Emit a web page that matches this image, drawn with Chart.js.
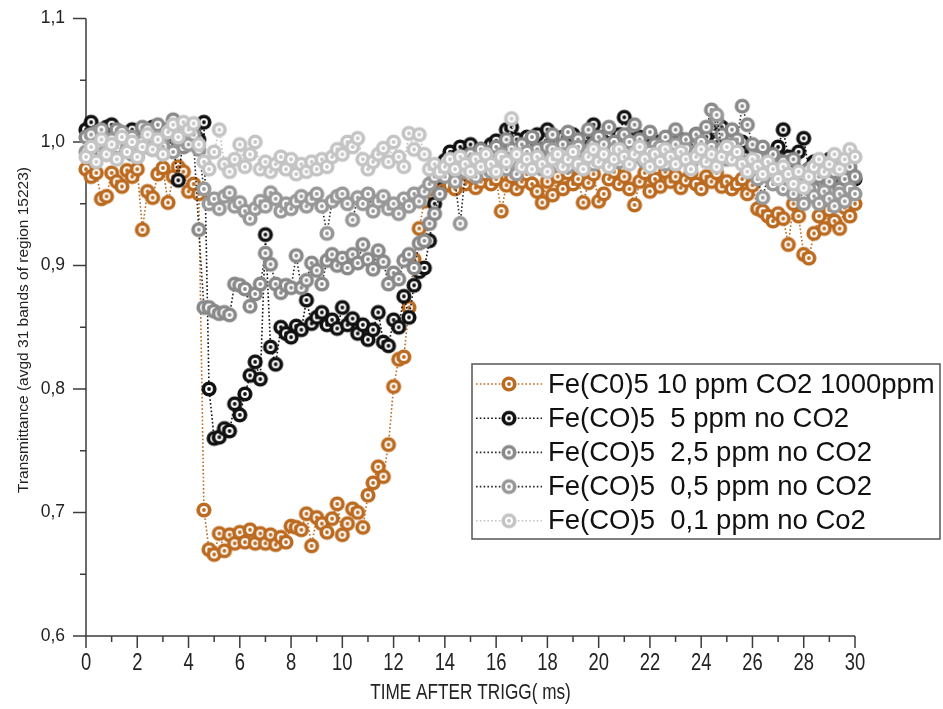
<!DOCTYPE html>
<html>
<head>
<meta charset="utf-8">
<script src="https://cdn.jsdelivr.net/npm/chart.js@4.4.1/dist/chart.umd.min.js"></script>
<style>
  html, body { margin: 0; padding: 0; background: #fff; }
  #wrap { width: 943px; height: 709px; }
</style>
</head>
<body>
<div id="wrap"><canvas id="chart" width="943" height="709"></canvas></div>
<script>
// sample times in ms, one reading every 0.2 ms
const times = Array.from({ length: 151 }, (_, i) => Math.round(i * 2) / 10);

const seriesLabels = [
  'Fe(C0)5 10 ppm CO2 1000ppm',
  'Fe(CO)5  5 ppm no CO2',
  'Fe(CO)5  2,5 ppm no CO2',
  'Fe(CO)5  0,5 ppm no CO2',
  'Fe(CO)5  0,1 ppm no Co2'
];

const xTicks = [0, 2, 4, 6, 8, 10, 12, 14, 16, 18, 20, 22, 24, 26, 28, 30];
const yTicks = [0.6, 0.7, 0.8, 0.9, 1.0, 1.1];

// transmittance, one row per 2 ms
const tenPpmCo2 = [
  0.978, 0.972, 0.975, 0.954, 0.956, 0.975, 0.968, 0.964, 0.977, 0.972,
  0.978, 0.929, 0.960, 0.955, 0.974, 0.979, 0.951, 0.972, 0.980, 0.976,
  0.960, 0.966, 0.958, 0.702, 0.670, 0.666, 0.683, 0.669, 0.682, 0.675,
  0.684, 0.676, 0.686, 0.675, 0.683, 0.675, 0.682, 0.674, 0.680, 0.676,
  0.689, 0.688, 0.686, 0.699, 0.673, 0.696, 0.691, 0.684, 0.695, 0.707,
  0.682, 0.691, 0.703, 0.700, 0.688, 0.714, 0.724, 0.737, 0.729, 0.755,
  0.802, 0.824, 0.826, 0.866, 0.905, 0.930, 0.952, 0.962, 0.968, 0.960,
  0.972, 0.965, 0.962, 0.970, 0.966, 0.972, 0.963, 0.968, 0.974, 0.966,
  0.970, 0.944, 0.965, 0.972, 0.962, 0.968, 0.974, 0.966, 0.960, 0.951,
  0.968, 0.957, 0.972, 0.962, 0.975, 0.966, 0.970, 0.951, 0.967, 0.974,
  0.952, 0.958, 0.970, 0.976, 0.966, 0.972, 0.962, 0.949, 0.968, 0.975,
  0.960, 0.970, 0.964, 0.976, 0.968, 0.972, 0.963, 0.969, 0.975, 0.966,
  0.962, 0.972, 0.968, 0.975, 0.964, 0.968, 0.962, 0.966, 0.970, 0.958,
  0.965, 0.946, 0.944, 0.940, 0.936, 0.942, 0.938, 0.917, 0.950, 0.940,
  0.909, 0.906, 0.926, 0.940, 0.930, 0.945, 0.936, 0.930, 0.947, 0.940,
  0.950
];

const fivePpm = [
  1.010, 1.016, 1.008, 1.002, 1.012, 1.014, 1.004, 0.998, 1.006, 1.010,
  1.002, 0.996, 1.008, 1.012, 1.000, 1.006, 1.010, 0.998, 0.969, 1.004,
  1.012, 1.008, 1.002, 1.016, 0.800, 0.760, 0.761, 0.768, 0.766, 0.788,
  0.779, 0.796, 0.811, 0.822, 0.808, 0.925, 0.834, 0.820, 0.850, 0.845,
  0.842, 0.851, 0.848, 0.872, 0.853, 0.858, 0.862, 0.852, 0.856, 0.849,
  0.866, 0.852, 0.857, 0.845, 0.852, 0.840, 0.848, 0.862, 0.838, 0.835,
  0.856, 0.850, 0.875, 0.858, 0.884, 0.895, 0.898, 0.920, 0.950, 0.972,
  0.985, 0.992, 0.988, 0.996, 0.990, 0.998, 0.986, 0.994, 0.990, 0.998,
  1.001, 0.994, 1.010, 1.012, 1.002, 0.996, 1.004, 0.998, 1.006, 0.994,
  1.010, 1.000, 0.992, 1.004, 0.998, 1.006, 0.994, 1.002, 0.996, 1.014,
  1.004, 0.998, 1.008, 0.996, 1.006, 1.020, 1.002, 0.994, 1.004, 0.998,
  1.006, 0.992, 1.000, 0.996, 1.004, 0.994, 1.002, 0.990, 0.998, 1.006,
  0.996, 1.004, 0.992, 1.000, 1.012, 0.998, 1.004, 0.994, 1.000, 0.988,
  0.994, 0.986, 0.992, 0.984, 0.990, 0.996, 1.010, 0.988, 0.980, 0.992,
  1.003, 0.978, 0.984, 0.974, 0.980, 0.986, 0.972, 0.978, 0.968, 0.976,
  0.970
];

const twoHalfPpm = [
  1.004, 0.996, 1.008, 0.992, 1.002, 0.998, 1.010, 0.994, 1.004, 0.990,
  1.000, 1.012, 0.996, 1.006, 1.014, 1.002, 1.010, 1.018, 1.006, 0.996,
  1.008, 1.000, 0.929, 0.866, 0.866, 0.863, 0.861, 0.862, 0.860, 0.885,
  0.884, 0.881, 0.867, 0.877, 0.885, 0.910, 0.901, 0.885, 0.878, 0.884,
  0.882, 0.908, 0.882, 0.888, 0.902, 0.896, 0.885, 0.904, 0.909, 0.900,
  0.906, 0.898, 0.909, 0.902, 0.917, 0.905, 0.897, 0.912, 0.903, 0.885,
  0.894, 0.889, 0.904, 0.909, 0.898, 0.918, 0.920, 0.934, 0.942, 0.958,
  0.975, 0.984, 0.978, 0.988, 0.982, 0.990, 0.984, 0.994, 0.986, 0.992,
  0.996, 0.988, 1.002, 0.994, 0.986, 0.998, 0.990, 1.004, 0.994, 0.986,
  0.996, 1.006, 0.992, 0.998, 1.008, 0.994, 1.002, 0.990, 1.010, 0.998,
  1.004, 0.994, 1.012, 1.000, 0.992, 1.006, 0.998, 1.014, 1.002, 0.994,
  1.008, 0.998, 0.990, 1.004, 0.996, 1.010, 0.994, 1.002, 0.988, 1.006,
  0.998, 1.012, 1.026, 1.018, 1.006, 0.996, 1.010, 1.002, 1.029, 1.014,
  0.998, 0.988, 0.996, 0.980, 0.990, 0.976, 0.984, 0.972, 0.986, 0.976,
  0.966, 0.978, 0.962, 0.972, 0.958, 0.968, 0.976, 0.962, 0.970, 0.980,
  0.972
];

const halfPpm = [
  0.992, 1.006, 0.998, 1.010, 0.990, 1.002, 0.996, 1.008, 0.994, 1.004,
  0.988, 1.000, 1.010, 0.994, 1.004, 0.996, 1.008, 0.992, 1.002, 1.012,
  0.998, 1.006, 0.994, 0.962, 0.950, 0.954, 0.946, 0.956, 0.959, 0.948,
  0.951, 0.944, 0.938, 0.946, 0.952, 0.948, 0.959, 0.954, 0.944, 0.950,
  0.946, 0.952, 0.956, 0.948, 0.954, 0.958, 0.948, 0.926, 0.952, 0.956,
  0.958, 0.950, 0.937, 0.955, 0.950, 0.958, 0.944, 0.952, 0.956, 0.946,
  0.950, 0.942, 0.954, 0.948, 0.958, 0.952, 0.960, 0.966, 0.972, 0.976,
  0.972, 0.980, 0.968, 0.934, 0.976, 0.984, 0.972, 0.980, 0.988, 0.976,
  0.984, 0.990, 0.978, 0.986, 0.974, 0.982, 0.992, 0.980, 0.988, 0.978,
  0.984, 0.994, 0.982, 0.990, 0.980, 0.988, 0.996, 0.984, 0.992, 0.982,
  0.990, 0.998, 0.986, 0.994, 0.984, 0.992, 1.000, 0.988, 0.996, 0.984,
  0.992, 0.986, 0.996, 0.982, 0.990, 0.998, 0.986, 0.994, 0.982, 0.992,
  1.000, 0.988, 0.996, 1.022, 0.994, 0.986, 0.998, 0.990, 0.984, 0.976,
  0.980, 0.970, 0.955, 0.972, 0.966, 0.974, 0.962, 0.970, 0.958, 0.966,
  0.950, 0.962, 0.956, 0.950, 0.960, 0.954, 0.948, 0.958, 0.952, 0.962,
  0.958
];

const tenthPpm = [
  0.988, 0.996, 0.984, 1.002, 0.990, 0.998, 0.986, 1.004, 0.992, 1.000,
  0.988, 0.996, 1.006, 0.994, 1.002, 0.990, 1.008, 1.014, 1.004, 1.016,
  1.010, 1.015, 0.998, 0.984, 0.978, 0.992, 1.010, 0.982, 0.976, 0.986,
  0.998, 0.980, 0.990, 1.000, 0.978, 0.984, 0.976, 0.982, 0.988, 0.978,
  0.986, 0.974, 0.982, 0.976, 0.984, 0.978, 0.986, 0.980, 0.988, 0.994,
  0.990, 1.000, 0.996, 1.003, 0.986, 0.978, 0.984, 0.990, 0.995, 0.984,
  1.000, 0.988, 0.980, 1.007, 0.994, 1.006, 0.990, 0.978, 0.982, 0.976,
  0.980, 0.986, 0.978, 0.988, 0.982, 0.976, 0.986, 0.980, 0.990, 0.982,
  0.976, 0.988, 0.984, 1.019, 0.990, 0.980, 0.986, 0.978, 0.988, 0.982,
  0.976, 0.986, 0.990, 0.980, 0.986, 0.992, 0.982, 0.978, 0.988, 0.994,
  0.984, 0.990, 0.980, 0.986, 0.994, 0.988, 0.982, 0.990, 0.996, 0.986,
  0.980, 0.990, 0.984, 0.994, 0.988, 0.982, 0.992, 0.986, 0.978, 0.988,
  0.994, 0.984, 0.990, 0.980, 0.988, 0.996, 0.986, 0.992, 0.982, 0.976,
  0.986, 0.980, 0.974, 0.984, 0.978, 0.970, 0.980, 0.974, 0.966, 0.976,
  0.963, 0.972, 0.980, 0.986, 0.976, 0.982, 0.990, 0.978, 0.986, 0.994,
  0.988
];

const seriesValues = [tenPpmCo2, fivePpm, twoHalfPpm, halfPpm, tenthPpm];
const markerColors = ['#bb6a1f', '#111111', '#898989', '#989898', '#c4c4c4'];
const lineColors   = ['#bb6a1f', '#111111', '#2a2a2a', '#2a2a2a', '#c4c4c4'];

const SANS = "'Liberation Sans', Arial, sans-serif";

// ring marker with a white gap and a dot in the middle
function ringMarker(color) {
  const c = document.createElement('canvas');
  c.width = 18; c.height = 18;
  const g = c.getContext('2d');
  g.fillStyle = color;
  g.beginPath(); g.arc(9, 9, 7.6, 0, Math.PI * 2); g.fill();
  g.fillStyle = '#ffffff';
  g.beginPath(); g.arc(9, 9, 3.9, 0, Math.PI * 2); g.fill();
  g.fillStyle = color;
  g.beginPath(); g.arc(9, 9, 1.9, 0, Math.PI * 2); g.fill();
  return c;
}
const markers = markerColors.map(ringMarker);

const datasets = seriesValues.map((vals, k) => ({
  label: seriesLabels[k],
  data: times.map((t, i) => ({ x: t, y: vals[i] })),
  borderColor: lineColors[k],
  borderWidth: 1.6,
  borderDash: [1.6, 2.2],
  pointStyle: markers[k],
  pointRadius: 8,
  pointHoverRadius: 8,
  tension: 0,
  clip: false,
  order: 5 - k
}));

// condensed text, drawn squeezed horizontally
function narrowText(ctx, text, x, y, size) {
  ctx.save();
  ctx.translate(x, y);
  ctx.scale(0.8, 1);
  ctx.font = size + 'px ' + SANS;
  ctx.fillText(text, 0, 0);
  ctx.restore();
}

// axis lines, tick marks, x labels, axis titles and the boxed legend
const frame = {
  id: 'frame',
  beforeDatasetsDraw(chart) {
    const { ctx, chartArea: a, scales: { x, y } } = chart;
    ctx.save();
    ctx.strokeStyle = '#3c3c3c';
    ctx.lineWidth = 1.5;
    ctx.beginPath();
    ctx.moveTo(a.left, a.top);
    ctx.lineTo(a.left, a.bottom);
    ctx.lineTo(a.right, a.bottom);
    for (let t = 0; t <= 30; t++) {
      const px = x.getPixelForValue(t);
      ctx.moveTo(px, a.bottom);
      ctx.lineTo(px, a.bottom + (t % 2 ? 6 : 12));
    }
    for (let k = 0; k <= 10; k++) {
      const py = y.getPixelForValue(0.6 + k * 0.05);
      ctx.moveTo(a.left, py);
      ctx.lineTo(a.left - (k % 2 ? 6 : 13), py);
    }
    ctx.stroke();

    ctx.fillStyle = '#222';
    ctx.textAlign = 'center';
    ctx.textBaseline = 'middle';
    xTicks.forEach(v => narrowText(ctx, String(v), x.getPixelForValue(v), 664, 23));
    narrowText(ctx, 'TIME AFTER TRIGG( ms)', (a.left + a.right) / 2, 693, 21.5);

    ctx.translate(24, 330);
    ctx.rotate(-Math.PI / 2);
    ctx.font = '15.5px ' + SANS;
    ctx.fillText('Transmittance (avgd 31 bands of region 15223)', 0, 0);
    ctx.restore();
  },
  afterDraw(chart) {
    const { ctx } = chart;
    const box = { left: 472, top: 364, right: 940, bottom: 539 };
    ctx.save();
    ctx.fillStyle = '#fff';
    ctx.fillRect(box.left, box.top, box.right - box.left, box.bottom - box.top);
    ctx.strokeStyle = '#555';
    ctx.lineWidth = 1.5;
    ctx.strokeRect(box.left, box.top, box.right - box.left, box.bottom - box.top);
    ctx.font = '27.5px ' + SANS;
    ctx.textBaseline = 'middle';
    ctx.textAlign = 'left';
    chart.data.datasets.forEach((ds, k) => {
      const cy = 384 + k * 34.2;
      ctx.strokeStyle = ds.borderColor;
      ctx.lineWidth = 1.6;
      ctx.setLineDash([1.6, 2.2]);
      ctx.beginPath();
      ctx.moveTo(476, cy);
      ctx.lineTo(542, cy);
      ctx.stroke();
      ctx.setLineDash([]);
      ctx.drawImage(ds.pointStyle, 509 - 9, cy - 9);
      ctx.fillStyle = '#111';
      ctx.fillText(ds.label, 548, cy + 1);
    });
    ctx.restore();
  }
};

new Chart(document.getElementById('chart'), {
  type: 'line',
  data: { datasets },
  options: {
    responsive: false,
    animation: false,
    devicePixelRatio: 1,
    layout: { padding: { top: 17, right: 88, left: 0, bottom: 0 } },
    plugins: { legend: { display: false }, tooltip: { enabled: false } },
    scales: {
      x: {
        type: 'linear',
        min: 0,
        max: 30,
        afterFit: s => { s.height = 73; },
        afterBuildTicks: s => { s.ticks = xTicks.map(v => ({ value: v })); },
        grid: { display: false, tickLength: 12 },
        border: { display: false },
        ticks: { display: false }
      },
      y: {
        type: 'linear',
        min: 0.6,
        max: 1.1,
        afterFit: s => { s.width = 86; },
        afterBuildTicks: s => { s.ticks = yTicks.map(v => ({ value: v })); },
        grid: { display: false, tickLength: 13 },
        border: { display: false },
        ticks: {
          padding: 8,
          color: '#222',
          font: { family: SANS, size: 17.5 },
          callback: v => v.toFixed(1).replace('.', ',')
        }
      }
    }
  },
  plugins: [frame]
});
</script>
</body>
</html>
